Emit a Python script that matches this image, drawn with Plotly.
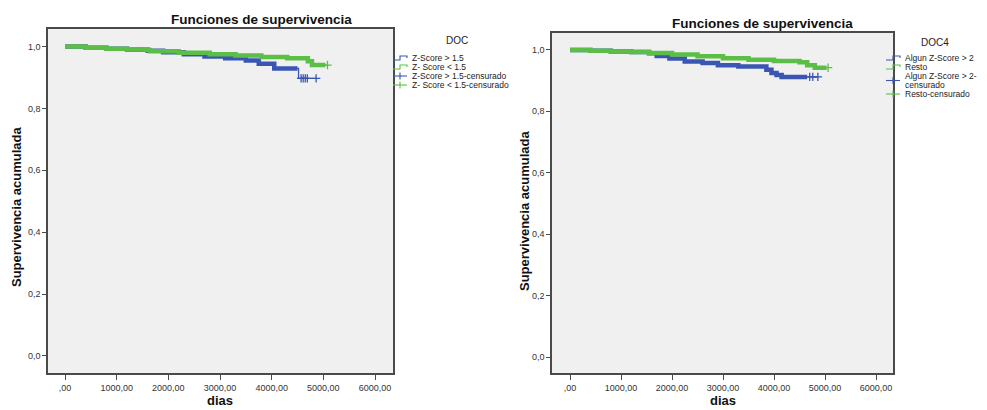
import plotly.graph_objects as go

# ---------------- data ----------------
# Left panel: DOC groups (Kaplan-Meier step values, days -> cumulative survival)
doc_hi_t = [0, 400, 800, 1200, 1600, 1900, 2300, 2700, 3100, 3500, 3750, 4050, 4520]
doc_hi_s = [1.0, 0.996, 0.993, 0.990, 0.986, 0.981, 0.975, 0.968, 0.962, 0.955, 0.944, 0.929, 0.897]
doc_hi_end = 4860
doc_hi_band_end = 4500
doc_hi_cens = [4570, 4610, 4650, 4690, 4860]

doc_lo_t = [0, 400, 800, 1200, 1600, 1650, 2200, 2800, 3300, 3800, 4300, 4700, 4780]
doc_lo_s = [1.0, 0.996, 0.993, 0.991, 0.989, 0.985, 0.980, 0.975, 0.971, 0.966, 0.962, 0.952, 0.940]
doc_lo_end = 5080
doc_lo_band_end = 5040
doc_lo_cens = [5080]

# Right panel: DOC4 groups
doc4_hi_t = [0, 400, 800, 1200, 1550, 1700, 1950, 2250, 2600, 2900, 3300, 3850, 3950, 4050, 4150]
doc4_hi_s = [1.0, 0.997, 0.995, 0.993, 0.989, 0.980, 0.972, 0.962, 0.957, 0.950, 0.946, 0.935, 0.925, 0.918, 0.912]
doc4_hi_end = 4860
doc4_hi_band_end = 4650
doc4_hi_cens = [4700, 4760, 4860]

doc4_lo_t = [0, 400, 800, 1200, 1550, 2000, 2500, 3000, 3500, 4000, 4500, 4650, 4800]
doc4_lo_s = [1.0, 0.997, 0.995, 0.993, 0.990, 0.985, 0.979, 0.973, 0.968, 0.964, 0.960, 0.950, 0.942]
doc4_lo_end = 5060
doc4_lo_band_end = 5030
doc4_lo_cens = [5060]

x_ticks = [0, 1000, 2000, 3000, 4000, 5000, 6000]
x_tick_text = [",00", "1000,00", "2000,00", "3000,00", "4000,00", "5000,00", "6000,00"]
y_ticks = [0.0, 0.2, 0.4, 0.6, 0.8, 1.0]
y_tick_text = ["0,0", "0,2", "0,4", "0,6", "0,8", "1,0"]

# legend entries; an inner list is one entry wrapped over two lines
legend_doc = [["Z-Score > 1.5"], ["Z- Score < 1.5"], ["Z-Score > 1.5-censurado"], ["Z- Score < 1.5-censurado"]]
legend_doc4 = [["Algun Z-Score > 2"], ["Resto"], ["Algun Z-Score > 2-", "censurado"], ["Resto-censurado"]]

BLUE = "#3b56b2"
GREEN = "#5bbf47"
FONT = "Liberation Sans, Arial, sans-serif"

W, H = 987, 410


def fx(p):
    return p / W


def fy(p):
    return 1 - p / H


def step_at(ts, ss, t):
    val = ss[0]
    for ti, si in zip(ts, ss):
        if ti <= t:
            val = si
    return val


fig = go.Figure()


def add_group(ts, ss, t_end, band_end, cens, color, xa, ya):
    # thin Kaplan-Meier step line over the whole follow-up
    fig.add_trace(go.Scatter(
        x=ts + [t_end], y=ss + [ss[-1]], mode="lines", line_shape="hv",
        line=dict(color=color, width=1.3), xaxis=xa, yaxis=ya,
        showlegend=False, hoverinfo="skip"))
    # dense censoring marks form a band along the curve
    bt = [t for t in ts if t <= band_end]
    bs = ss[:len(bt)]
    fig.add_trace(go.Scatter(
        x=bt + [band_end], y=bs + [bs[-1]], mode="lines", line_shape="hv",
        line=dict(color=color, width=4.5), xaxis=xa, yaxis=ya,
        showlegend=False, hoverinfo="skip"))
    # isolated censored observations at the tail
    fig.add_trace(go.Scatter(
        x=cens, y=[step_at(ts, ss, c) for c in cens], mode="markers",
        marker=dict(symbol="cross-thin", size=6, line=dict(color=color, width=1.3)),
        xaxis=xa, yaxis=ya, showlegend=False, hoverinfo="skip"))


add_group(doc_hi_t, doc_hi_s, doc_hi_end, doc_hi_band_end, doc_hi_cens, BLUE, "x", "y")
add_group(doc_lo_t, doc_lo_s, doc_lo_end, doc_lo_band_end, doc_lo_cens, GREEN, "x", "y")
add_group(doc4_hi_t, doc4_hi_s, doc4_hi_end, doc4_hi_band_end, doc4_hi_cens, BLUE, "x2", "y2")
add_group(doc4_lo_t, doc4_lo_s, doc4_lo_end, doc4_lo_band_end, doc4_lo_cens, GREEN, "x2", "y2")

axis_common = dict(
    showline=True, mirror=True, linecolor="#4a4a4a", linewidth=1.5,
    showgrid=False, zeroline=False, ticks="outside", tickcolor="#4a4a4a",
    tickwidth=1.2, tickfont=dict(family=FONT, size=9, color="#333333"),
)

fig.update_layout(
    width=W, height=H, margin=dict(l=0, r=0, t=0, b=0),
    paper_bgcolor="white", plot_bgcolor="#f0f0f0", showlegend=False,
    xaxis=dict(domain=[fx(48), fx(393)], range=[-329, 6348], anchor="y",
               tickvals=x_ticks, ticktext=x_tick_text, ticklen=5, **axis_common),
    yaxis=dict(domain=[1 - 373 / H, 1 - 29 / H], range=[-0.055, 1.0565], anchor="x",
               tickvals=y_ticks, ticktext=y_tick_text, ticklen=4, **axis_common),
    xaxis2=dict(domain=[fx(552), fx(893)], range=[-353, 6333], anchor="y2",
                tickvals=x_ticks, ticktext=x_tick_text, ticklen=5, **axis_common),
    yaxis2=dict(domain=[1 - 373 / H, 1 - 33 / H], range=[-0.052, 1.055], anchor="x2",
                tickvals=y_ticks, ticktext=y_tick_text, ticklen=4, **axis_common),
)

annotations = []


def text(x, y, s, size, bold=False, anchor="center", angle=0, color="#111111", pad=1):
    annotations.append(dict(
        x=fx(x), y=fy(y), xref="paper", yref="paper", text=f"<b>{s}</b>" if bold else s,
        showarrow=False, xanchor=anchor, yanchor="middle", textangle=angle, borderpad=pad,
        font=dict(family=FONT, size=size, color=color), align="left"))


# titles
text(261, 19, "Funciones de supervivencia", 13.5, bold=True)
text(762, 23, "Funciones de supervivencia", 13.5, bold=True)
# axis titles
text(16, 207, "Supervivencia acumulada", 13, bold=True, angle=-90)
text(524, 211, "Supervivencia acumulada", 13, bold=True, angle=-90)
text(220, 400, "dias", 13, bold=True, pad=0)
text(723, 400, "dias", 13, bold=True, pad=0)

shapes = []


def path(points, color):
    d = "M " + " L ".join(f"{fx(a):.5f},{fy(b):.5f}" for a, b in points)
    shapes.append(dict(type="path", path=d, xref="paper", yref="paper",
                       line=dict(color=color, width=1.1)))


def legend_block(x0, title_xy, title, items, y_start, item_gap, line_gap):
    text(title_xy[0], title_xy[1], title, 10, color="#222222")
    colors = [BLUE, GREEN, BLUE, GREEN]
    y = y_start
    for i, lines in enumerate(items):
        c = colors[i]
        iy = y + (len(lines) - 1) * line_gap / 2
        if i < 2:
            path([(x0, iy + 2), (x0 + 7, iy + 2), (x0 + 7, iy - 2),
                  (x0 + 14, iy - 2), (x0 + 14, iy)], c)
        else:
            path([(x0, iy), (x0 + 14, iy)], c)
            path([(x0 + 7, iy - 3.5), (x0 + 7, iy + 3.5)], c)
        for k, lab in enumerate(lines):
            text(x0 + 18, y + k * line_gap, lab, 8.5, anchor="left", color="#222222", pad=0)
        y += (len(lines) - 1) * line_gap + item_gap


legend_block(393, (457, 41), "DOC", legend_doc, 58, 9, 9)
legend_block(886, (935, 43), "DOC4", legend_doc4, 58, 9, 9)

fig.update_layout(annotations=annotations, shapes=shapes)

fig.write_html("out.html")
